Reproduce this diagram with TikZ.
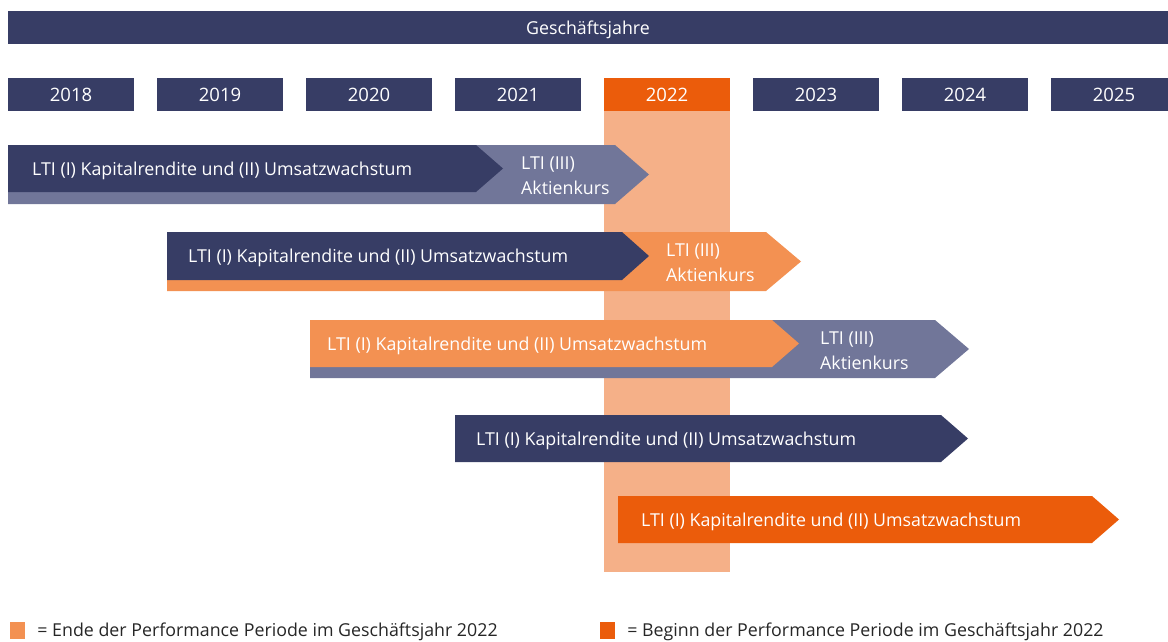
\documentclass[tikz,border=0pt]{standalone}
\usepackage{fontspec}
\setmainfont{Open Sans}
\usepackage{tikz}
\usepackage{xcolor}
\usetikzlibrary{positioning}

\definecolor{navy}{HTML}{373D65}
\definecolor{lilac}{HTML}{717699}
\definecolor{apricot}{HTML}{F39152}
\definecolor{peach}{HTML}{F5B088}
\definecolor{flame}{HTML}{EB5C0B}

\begin{document}
\begin{tikzpicture}[
  x=1pt,y=-1pt,
  every node/.style={text=white,inner sep=0pt,font=\fontsize{17.8}{25}\selectfont},
  yearbox/.style={minimum width=126pt,minimum height=33pt,font=\fontsize{18.5}{22}\selectfont},
  bartext/.style={anchor=west,yshift=-2pt},
  keybox/.style={minimum width=15pt,minimum height=17pt},
  keytext/.style={text=black!85,anchor=west,yshift=-1pt}
  ]

  \useasboundingbox (0,0) rectangle (1168,642);

  % Spalte 2022
  \fill[peach] (604,111) rectangle (730,572);

  \node[fill=navy,minimum width=1160pt,minimum height=33pt,text height=13pt,text depth=2pt] (gj) at (588,27.5) {};
  \node[yshift=-2.5pt] (gjtext) at (gj) {Geschäftsjahre};

  \foreach \yr/\col [count=\i from 0] in {2018/navy,2019/navy,2020/navy,2021/navy,
      2022/flame,2023/navy,2024/navy,2025/navy}
    \node[yearbox,fill=\col] (y\yr) at (71+149*\i,94.5) {\yr};

  % Zeile 1
  \fill[lilac] (8,145) -- (615,145) -- (649,174.5) -- (615,204) -- (8,204) -- cycle;
  \fill[navy] (8,145) -- (476,145) -- (503,168.5) -- (476,192) -- (8,192) -- cycle;
  \node[bartext] (a1) at (32,168.5) {LTI (I) Kapitalrendite und (II) Umsatzwachstum};
  \node[bartext,align=left] (a3) at (521,174) {LTI (III)\\Aktienkurs};

  % Zeile 2
  \fill[apricot] (167,232) -- (766,232) -- (801,261.5) -- (766,291) -- (167,291) -- cycle;
  \fill[navy] (167,232) -- (622,232) -- (649,256) -- (622,280) -- (167,280) -- cycle;
  \node[bartext] (b1) at (188,256) {LTI (I) Kapitalrendite und (II) Umsatzwachstum};
  \node[bartext,align=left] (b3) at (666,261) {LTI (III)\\Aktienkurs};

  % Zeile 3
  \fill[lilac] (310,320) -- (935,320) -- (969,349) -- (935,378) -- (310,378) -- cycle;
  \fill[apricot] (310,320) -- (772,320) -- (799,343.5) -- (772,367) -- (310,367) -- cycle;
  \node[bartext] (c1) at (327,343.5) {LTI (I) Kapitalrendite und (II) Umsatzwachstum};
  \node[bartext,align=left] (c3) at (820,349) {LTI (III)\\Aktienkurs};

  % Zeile 4
  \fill[navy] (455,415) -- (941,415) -- (968,438.5) -- (941,462) -- (455,462) -- cycle;
  \node[bartext] (d1) at (476,438.5) {LTI (I) Kapitalrendite und (II) Umsatzwachstum};

  % Zeile 5
  \fill[flame] (618,496) -- (1092,496) -- (1119,519.5) -- (1092,543) -- (618,543) -- cycle;
  \node[bartext] (e1) at (641,519.5) {LTI (I) Kapitalrendite und (II) Umsatzwachstum};

  % Legende
  \node[keybox,fill=apricot] (kend) at (17.5,630.5) {};
  \node[keytext,right=12pt of kend] {= Ende der Performance Periode im Geschäftsjahr 2022};
  \node[keybox,fill=flame] (kbeg) at (607.5,630.5) {};
  \node[keytext,right=12pt of kbeg] {= Beginn der Performance Periode im Geschäftsjahr 2022};
\end{tikzpicture}
\end{document}
